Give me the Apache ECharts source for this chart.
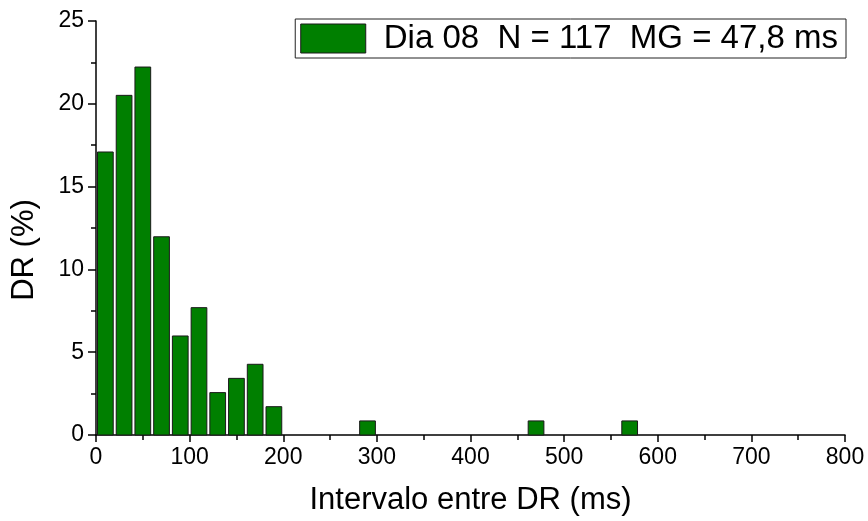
<!DOCTYPE html>
<html>
<head>
<meta charset="utf-8">
<script src="https://cdn.jsdelivr.net/npm/echarts@6/dist/echarts.min.js"></script>
<style>
html, body { margin: 0; padding: 0; background: #fff; }
#ct1 { width: 868px; height: 521px; }
</style>
</head>
<body>
<div id="ct1"></div>
<script>
// histogram bins (ms) and share of intervals (%)
var binStart = [0, 20, 40, 60, 80, 100, 120, 140, 160, 180, 280, 460, 560];
var binEnd = [20, 40, 60, 80, 100, 120, 140, 160, 180, 200, 300, 480, 580];
var pct = [17.09, 20.51, 22.22, 11.97, 5.98, 7.69, 2.56, 3.42, 4.27, 1.71, 0.85, 0.85, 0.85];
var seriesName = 'Dia 08  N = 117  MG = 47,8 ms';

var barData = [];
for (var i = 0; i < pct.length; i++) {
	barData.push([binStart[i], binEnd[i], pct[i]]);
}

var font = 'Liberation Sans, Arial, sans-serif';
var green = '#007f00';

var option1 = {
	animation: false,
	grid: { left: 96, right: 23, top: 21, bottom: 86 },
	legend: {
		right: 22,
		top: 19,
		padding: [3, 8, 3, 5],
		borderColor: '#222',
		borderWidth: 1,
		itemWidth: 65,
		itemHeight: 29,
		textStyle: { fontFamily: font, fontSize: 33, color: '#000', padding: [0, 0, 0, 13] },
		data: [{ name: seriesName, icon: 'rect', itemStyle: { color: green, borderColor: '#1a1a1a', borderWidth: 1 } }]
	},
	xAxis: {
		type: 'value',
		min: 0,
		max: 800,
		interval: 100,
		name: 'Intervalo entre DR (ms)',
		nameLocation: 'middle',
		nameGap: 50,
		nameTextStyle: { fontFamily: font, fontSize: 31, color: '#000' },
		axisLine: { show: true, lineStyle: { color: '#000', width: 1.5 } },
		axisTick: { show: true, inside: false, length: 7, lineStyle: { color: '#000', width: 1.5 } },
		minorTick: { show: true, splitNumber: 2, length: 5, lineStyle: { color: '#000', width: 1.5 } },
		axisLabel: { fontFamily: font, fontSize: 23, color: '#000', margin: 11 },
		splitLine: { show: false }
	},
	yAxis: {
		type: 'value',
		min: 0,
		max: 25,
		interval: 5,
		name: 'DR (%)',
		nameLocation: 'middle',
		nameGap: 56,
		nameTextStyle: { fontFamily: font, fontSize: 31, color: '#000', padding: [0, 44, 0, 0] },
		axisLine: { show: true, lineStyle: { color: '#000', width: 1.5 } },
		axisTick: { show: true, inside: false, length: 8, lineStyle: { color: '#000', width: 1.5 } },
		minorTick: { show: true, splitNumber: 2, length: 5, lineStyle: { color: '#000', width: 1.5 } },
		axisLabel: { fontFamily: font, fontSize: 23, color: '#000', margin: 12 },
		splitLine: { show: false }
	},
	series: [{
		name: seriesName,
		type: 'custom',
		data: barData,
		encode: { x: [0, 1], y: 2 },
		itemStyle: { color: green },
		renderItem: function (params, api) {
			var p0 = api.coord([api.value(0), 0]);
			var p1 = api.coord([api.value(1), api.value(2)]);
			var w = p1[0] - p0[0];
			return {
				type: 'rect',
				shape: { x: p0[0] + 1.5, y: p1[1], width: w - 3, height: p0[1] - p1[1] },
				style: { fill: green, stroke: '#1a1a1a', lineWidth: 1 }
			};
		}
	}]
};

var myChart1 = echarts.init(document.getElementById('ct1'));
myChart1.setOption(option1, true);
</script>
</body>
</html>
